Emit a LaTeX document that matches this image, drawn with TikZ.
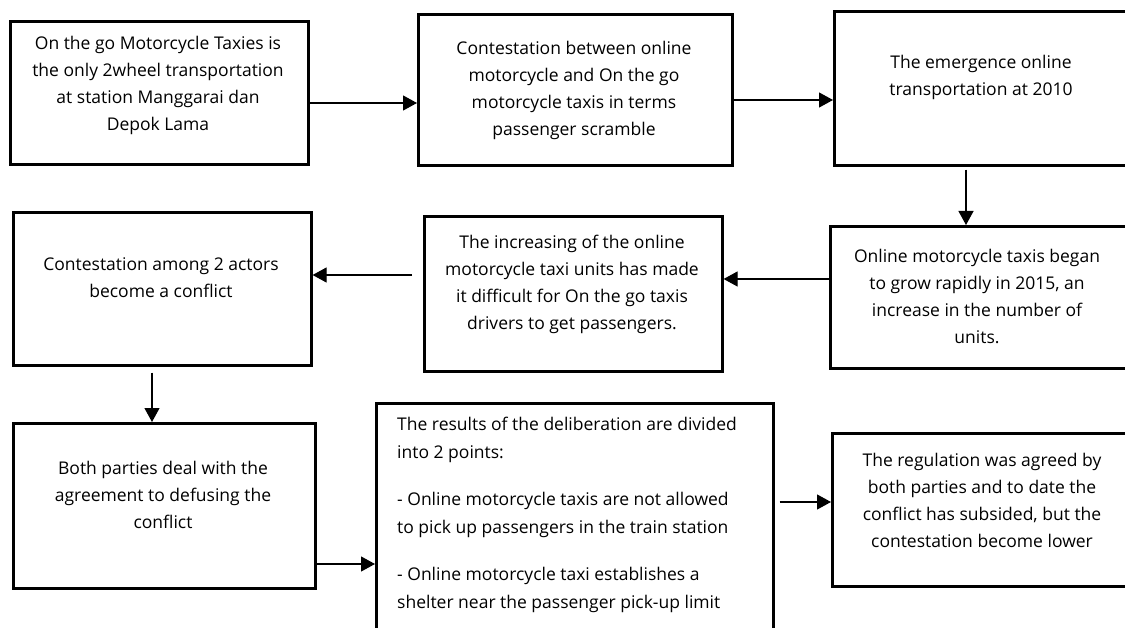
\documentclass[tikz,border=0pt]{standalone}
\usepackage{fontspec}
\setmainfont{Open Sans}
\usetikzlibrary{arrows.meta}

\tikzset{
  frame/.style={draw, line width=2.6pt, anchor=north west, inner sep=0pt},
  txt/.style={align=center, inner sep=0pt, font=\fontsize{17.5}{27}\selectfont},
  link/.style={->, line width=1.2pt},
}

\begin{document}
\begin{tikzpicture}[x=1pt,y=-1pt,>={Triangle[length=14pt,width=15pt]}]
    \useasboundingbox (0,0) rectangle (1125,628);
    % frames
    \foreach \n/\x/\y/\w/\h in {A/9/20/298/143, B/417/13/314/151, C/833/10/296/154,
                                D/829/225/297/142, E/423/215/298/155, F/12/211/298/153,
                                G/12/422/302/165, H/375/402/397/260, I/831/432/302/153}
    	\node[frame, minimum width=\w pt, minimum height=\h pt] (\n) at (\x,\y) {};
    % row 1
    \node[txt] (At) at (158,85) {On the go Motorcycle Taxies is\\ the only 2wheel transportation\\ at station Manggarai dan\\ Depok Lama};
    \node[txt] (Bt) at (574,90) {Contestation between online\\ motorcycle and On the go\\ motorcycle taxis in terms\\ passenger scramble};
    \node[txt] (Ct) at (981,77) {The emergence online\\ transportation at 2010};
    % row 2
    \node[txt] (Dt) at (977,296) {Online motorcycle taxis began\\ to grow rapidly in 2015, an\\ increase in the number of\\ units.};
    \node[txt] (Et) at (572,284) {The increasing of the online\\ motorcycle taxi units has made\\ it difficult for On the go taxis\\ drivers to get passengers.};
    \node[txt] (Ft) at (161,278) {Contestation among 2 actors\\ become a conflict};
    % row 3
    \node[txt] (Gt) at (163,495) {Both parties deal with the\\ agreement to defusing the\\ conflict};
    \node[txt, align=left, anchor=north west, font=\fontsize{17.5}{28}\selectfont] (Ht) at (397,417) {The results of the deliberation are divided\\ into 2 points:\\[19pt] - Online motorcycle taxis are not allowed\\ to pick up passengers in the train station\\[19pt] - Online motorcycle taxi establishes a\\ shelter near the passenger pick-up limit};
    \node[txt] (It) at (982,500) {The regulation was agreed by\\ both parties and to date the\\ conflict has subsided, but the\\ contestation become lower};
    % links
    \draw[link] (A.east |- 0,103) -- (B.west |- 0,103);
    \draw[link] (B.east |- 0,100) -- (C.west |- 0,100);
    \draw[link, shorten <=3pt] (966,0 |- C.south) -- (966,0 |- D.north);
    \draw[link] (D.west |- 0,279) -- (E.east |- 0,279);
    \draw[link, shorten <=11pt] (E.west |- 0,275) -- (F.east |- 0,275);
    \draw[link, shorten <=6pt] (152,0 |- F.south) -- (152,0 |- G.north);
    \draw[link] (G.east |- 0,564) -- (H.west |- 0,564);
    \draw[link, shorten <=5pt] (H.east |- 0,502) -- (I.west |- 0,502);
\end{tikzpicture}
\end{document}
